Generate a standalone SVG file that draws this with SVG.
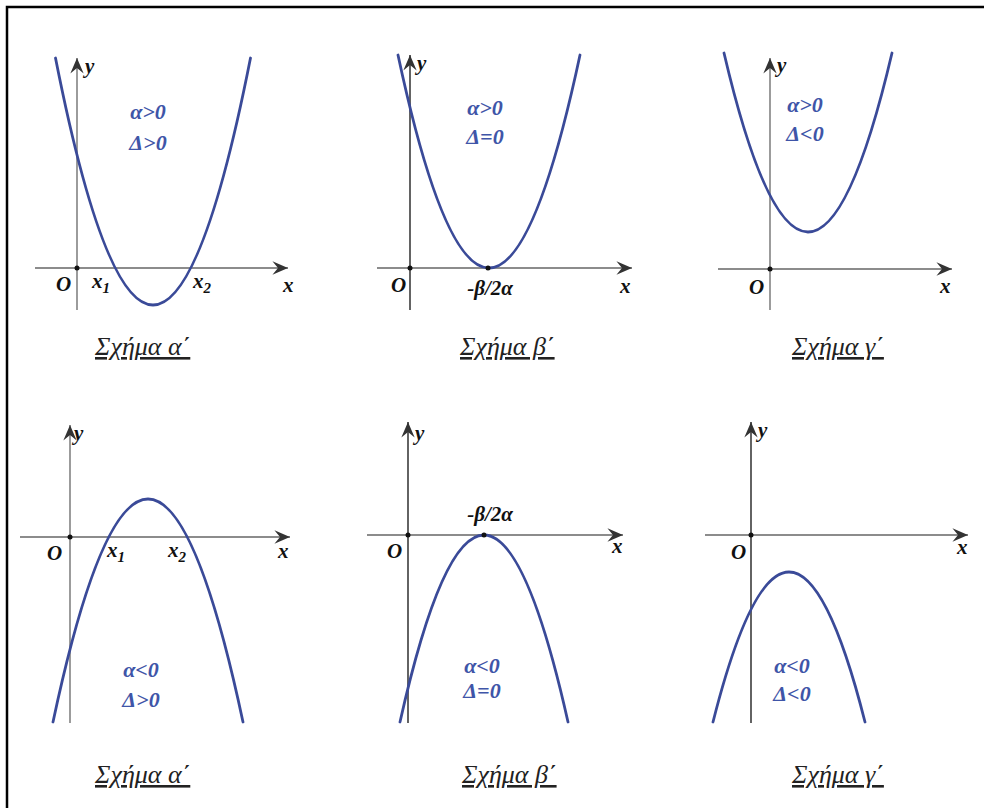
<svg xmlns="http://www.w3.org/2000/svg" width="984" height="808" viewBox="0 0 984 808">
<defs>
<style>
.curve{fill:none;stroke:#3a4a98;stroke-width:2.8;stroke-linecap:round}
.ax{fill:none;stroke:#666;stroke-width:1.3}
.axd{fill:none;stroke:#222;stroke-width:1.4}
.lbl{font-family:"Liberation Serif",serif;font-style:italic;font-weight:bold;font-size:21px;fill:#111}
.cond{font-family:"Liberation Serif",serif;font-style:italic;font-weight:bold;font-size:22px;fill:#3f55a8;text-anchor:middle}
.cap{font-family:"Liberation Serif",serif;font-style:italic;font-size:26px;fill:#222;text-decoration:underline}
.dot{fill:#111}
</style>
<marker id="arr" markerUnits="userSpaceOnUse" markerWidth="20" markerHeight="20" viewBox="-16 -8 18 16" refX="0" refY="0" orient="auto">
<path d="M0,0 L-14,-6 L-9,0 L-14,6 Z" fill="#333"/>
</marker>
</defs>
<rect width="984" height="808" fill="#fff"/>
<g id="frame" stroke="#000" stroke-width="2.5" fill="none">
<path d="M7,808 L7,7 L984,7"/>
</g>

<g id="panel-top-a">
<line class="ax" x1="35" y1="268" x2="288" y2="268" marker-end="url(#arr)"/>
<line class="ax" x1="77" y1="310" x2="77" y2="58" marker-end="url(#arr)"/>
<circle class="dot" cx="77" cy="268" r="2.5"/>
<path class="curve" d="M55.5,58 Q153,552 250.5,58"/>
<text class="lbl" x="56" y="291">O</text>
<text class="lbl" x="92" y="288">x<tspan dy="5" font-size="15">1</tspan></text>
<text class="lbl" x="193" y="288">x<tspan dy="5" font-size="15">2</tspan></text>
<text class="lbl" x="283" y="292">x</text>
<text class="lbl" x="85" y="73">y</text>
<text class="cond" x="148" y="119">α&gt;0</text>
<text class="cond" x="148" y="150">Δ&gt;0</text>
</g>

<g id="panel-top-b">
<line class="ax" x1="377" y1="268" x2="632" y2="268" marker-end="url(#arr)"/>
<line class="axd" x1="410" y1="310" x2="410" y2="55" marker-end="url(#arr)"/>
<circle class="dot" cx="410" cy="268" r="2.5"/>
<path class="curve" d="M398,55 Q489,481 580,55"/>
<circle class="dot" cx="488" cy="268" r="2.5"/>
<text class="lbl" x="391" y="292">O</text>
<text class="lbl" x="490" y="295" text-anchor="middle">-β/2α</text>
<text class="lbl" x="620" y="293">x</text>
<text class="lbl" x="417" y="70">y</text>
<text class="cond" x="485" y="115">α&gt;0</text>
<text class="cond" x="485" y="144">Δ=0</text>
</g>

<g id="panel-top-c">
<line class="ax" x1="718" y1="269" x2="952" y2="269" marker-end="url(#arr)"/>
<line class="ax" x1="770" y1="310" x2="770" y2="58" marker-end="url(#arr)"/>
<circle class="dot" cx="770" cy="269" r="2.5"/>
<path class="curve" d="M724,53 Q808,411 892,53"/>
<text class="lbl" x="749" y="294">O</text>
<text class="lbl" x="940" y="293">x</text>
<text class="lbl" x="777" y="72">y</text>
<text class="cond" x="805" y="112">α&gt;0</text>
<text class="cond" x="805" y="141">Δ&lt;0</text>
</g>

<g id="panel-bottom-a">
<line class="ax" x1="20" y1="537" x2="290" y2="537" marker-end="url(#arr)"/>
<line class="ax" x1="70" y1="723" x2="70" y2="425" marker-end="url(#arr)"/>
<circle class="dot" cx="70" cy="537" r="2.5"/>
<path class="curve" d="M53,722 Q148,276 243,722"/>
<text class="lbl" x="47" y="560">O</text>
<text class="lbl" x="107" y="557">x<tspan dy="5" font-size="15">1</tspan></text>
<text class="lbl" x="168" y="557">x<tspan dy="5" font-size="15">2</tspan></text>
<text class="lbl" x="278" y="558">x</text>
<text class="lbl" x="74" y="440">y</text>
<text class="cond" x="141" y="677">α&lt;0</text>
<text class="cond" x="141" y="707">Δ&gt;0</text>
</g>

<g id="panel-bottom-b">
<line class="ax" x1="367" y1="535" x2="623" y2="535" marker-end="url(#arr)"/>
<line class="axd" x1="408" y1="723" x2="408" y2="422" marker-end="url(#arr)"/>
<circle class="dot" cx="408" cy="535" r="2.5"/>
<path class="curve" d="M400,722 Q484,348 568,722"/>
<circle class="dot" cx="484" cy="535" r="2.5"/>
<text class="lbl" x="490" y="521" text-anchor="middle">-β/2α</text>
<text class="lbl" x="387" y="558">O</text>
<text class="lbl" x="612" y="553">x</text>
<text class="lbl" x="415" y="440">y</text>
<text class="cond" x="482" y="673">α&lt;0</text>
<text class="cond" x="482" y="698">Δ=0</text>
</g>

<g id="panel-bottom-c">
<line class="ax" x1="705" y1="535" x2="968" y2="535" marker-end="url(#arr)"/>
<line class="axd" x1="751" y1="723" x2="751" y2="422" marker-end="url(#arr)"/>
<circle class="dot" cx="751" cy="535" r="2.5"/>
<path class="curve" d="M713,722 Q789,422 865,722"/>
<text class="lbl" x="731" y="559">O</text>
<text class="lbl" x="957" y="554">x</text>
<text class="lbl" x="758" y="437">y</text>
<text class="cond" x="792" y="673">α&lt;0</text>
<text class="cond" x="792" y="701">Δ&lt;0</text>
</g>

<g id="captions">
<text class="cap" x="95" y="355">Σχήμα α΄</text>
<text class="cap" x="460" y="355">Σχήμα β΄</text>
<text class="cap" x="792" y="355">Σχήμα γ΄</text>
<text class="cap" x="95" y="783">Σχήμα α΄</text>
<text class="cap" x="462" y="783">Σχήμα β΄</text>
<text class="cap" x="792" y="783">Σχήμα γ΄</text>
</g>
</svg>
